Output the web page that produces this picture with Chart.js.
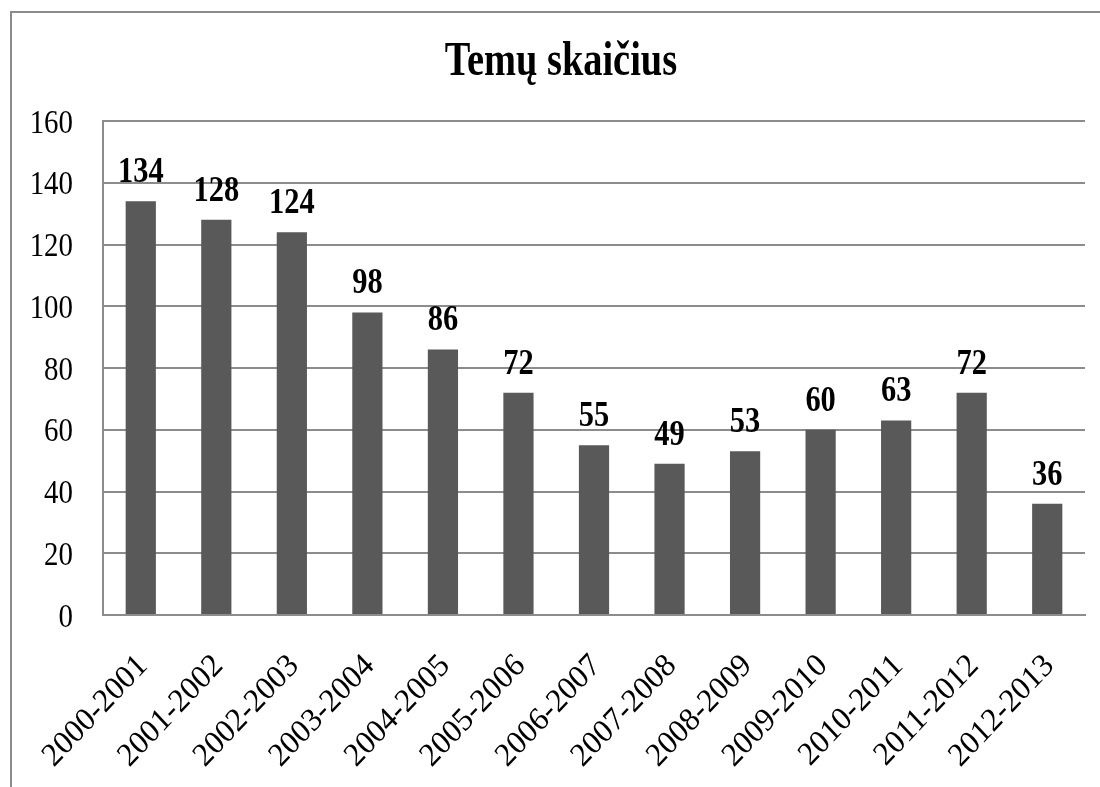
<!DOCTYPE html>
<html>
<head>
<meta charset="utf-8">
<script src="https://cdn.jsdelivr.net/npm/chart.js@4.4.0/dist/chart.umd.min.js"></script>
<style>
html,body{margin:0;padding:0;background:#fff;}
#wrap{position:absolute;left:0;top:0;width:1100px;height:787px;}
#frame{position:absolute;left:10px;top:11px;width:1090px;height:776px;border-top:2px solid #8c8c8c;border-left:2px solid #8c8c8c;box-sizing:border-box;pointer-events:none;}
canvas{position:absolute;left:0;top:0;}
</style>
</head>
<body>
<div id="wrap"><canvas id="c" width="1100" height="787"></canvas><div id="frame"></div></div>
<script>
const titleText = 'Temų skaičius';
const categories = ['2000-2001','2001-2002','2002-2003','2003-2004','2004-2005','2005-2006','2006-2007','2007-2008','2008-2009','2009-2010','2010-2011','2011-2012','2012-2013'];
const values = [134,128,124,98,86,72,55,49,53,60,63,72,36];
const yTicks = [0,20,40,60,80,100,120,140,160];

const FONT = "'Liberation Serif','Times New Roman',serif";

// draw text with a horizontal compression (the reference uses a narrow serif face)
function narrowText(ctx, text, x, y, font, sx, align) {
  ctx.save();
  ctx.font = font;
  ctx.textAlign = align || 'center';
  ctx.textBaseline = 'alphabetic';
  ctx.translate(x, y);
  ctx.scale(sx, 1);
  ctx.fillText(text, 0, 0);
  ctx.restore();
}

const textPlugin = {
  id: 'customText',
  afterDraw(chart) {
    const ctx = chart.ctx;
    ctx.save();
    ctx.fillStyle = '#000';
    // title
    narrowText(ctx, titleText, 561, 75, 'bold 48px ' + FONT, 0.8, 'center');
    // y tick labels
    const ys = chart.scales.y;
    ys.ticks.forEach(t => {
      const py = ys.getPixelForValue(t.value);
      narrowText(ctx, String(t.value), 73, py + 11.5, '34px ' + FONT, 0.85, 'right');
    });
    // x tick labels, rotated 45 degrees
    const xs = chart.scales.x;
    categories.forEach((c, i) => {
      const px = xs.getPixelForValue(i);
      ctx.save();
      ctx.font = '31px ' + FONT;
      ctx.textAlign = 'right';
      ctx.textBaseline = 'alphabetic';
      ctx.translate(px + 8, xs.top + 52);
      ctx.scale(1, 1.06);
      ctx.rotate(-Math.PI / 4);
      ctx.fillText(c, 0, 0);
      ctx.restore();
    });
    // bar value labels
    const meta = chart.getDatasetMeta(0);
    meta.data.forEach((bar, i) => {
      narrowText(ctx, String(values[i]), bar.x, bar.y - 19, 'bold 35px ' + FONT, 0.87, 'center');
    });
    ctx.restore();
  }
};

new Chart(document.getElementById('c'), {
  type: 'bar',
  data: {
    labels: categories,
    datasets: [{
      data: values,
      backgroundColor: '#595959',
      borderWidth: 0,
      barPercentage: 0.4,
      categoryPercentage: 1.0
    }]
  },
  options: {
    responsive: false,
    animation: false,
    layout: { padding: { left: 0, right: 15, top: 121, bottom: 0 } },
    plugins: {
      legend: { display: false },
      tooltip: { enabled: false },
      title: { display: false }
    },
    scales: {
      x: {
        grid: { display: false, drawTicks: false },
        border: { display: true, color: '#8c8c8c', width: 2 },
        ticks: { display: false, autoSkip: false },
        afterFit(scale) { scale.height = 172; }
      },
      y: {
        min: 0, max: 160,
        afterBuildTicks(scale) { scale.ticks = yTicks.map(v => ({ value: v })); },
        grid: { color: '#8c8c8c', lineWidth: 2, drawTicks: false },
        border: { display: true, color: '#8c8c8c', width: 2 },
        ticks: { display: false },
        afterFit(scale) { scale.width = 103; }
      }
    }
  },
  plugins: [textPlugin]
});
</script>
</body>
</html>
